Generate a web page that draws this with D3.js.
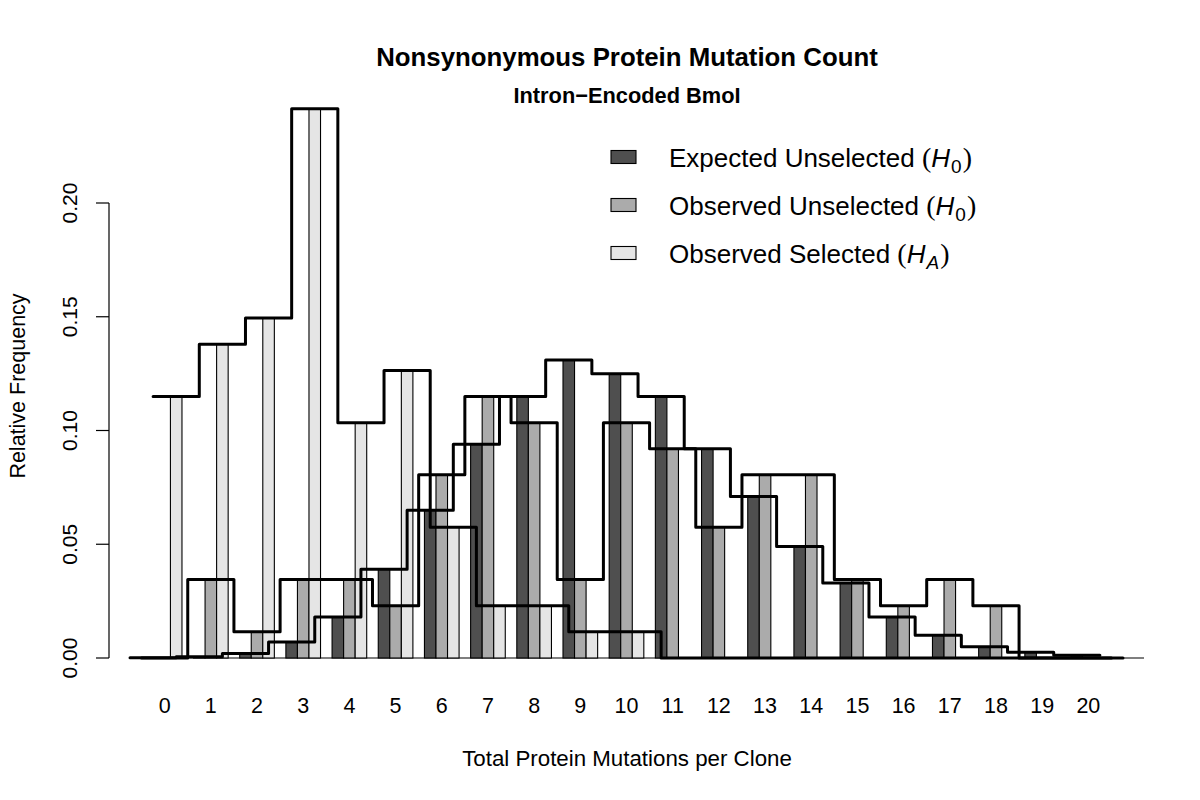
<!DOCTYPE html>
<html>
<head>
<meta charset="utf-8">
<script src="https://cdn.jsdelivr.net/npm/d3@7"></script>
<style>
  html, body { margin: 0; padding: 0; background: #ffffff; }
  svg { display: block; }
  text { font-family: "Liberation Sans", Arial, Helvetica, sans-serif; fill: #000; }
</style>
</head>
<body>
<svg id="chart" width="1200" height="800"></svg>
<script>
// ---- data ----
const categories = ["0","1","2","3","4","5","6","7","8","9","10","11","12","13","14","15","16","17","18","19","20"];
const expectedUnselected = [0.0001, 0.0005, 0.002, 0.007, 0.018, 0.039, 0.065, 0.094, 0.115, 0.131, 0.125, 0.115, 0.092, 0.071, 0.049, 0.033, 0.018, 0.010, 0.005, 0.0025, 0.0012];
const observedUnselected = [0, 0.0345, 0.0115, 0.0345, 0.0345, 0.023, 0.0805, 0.1149, 0.1034, 0.0345, 0.1034, 0.092, 0.0575, 0.0805, 0.0805, 0.0345, 0.023, 0.0345, 0.023, 0, 0];
const observedSelected = [0.1149, 0.1379, 0.1494, 0.2414, 0.1034, 0.1264, 0.0575, 0.023, 0.023, 0.0115, 0.0115, 0, 0, 0, 0, 0, 0, 0, 0, 0, 0];
const yTicks = [0, 0.05, 0.10, 0.15, 0.20];
const seriesNames = ["Expected Unselected", "Observed Unselected", "Observed Selected"];
const seriesSubs = ["0", "0", "A"];
const seriesColors = ["#4f4f4f", "#ababab", "#e5e5e5"];
const titleText = "Nonsynonymous Protein Mutation Count";
const subtitleText = "Intron\u2212Encoded BmoI";
const xLabel = "Total Protein Mutations per Clone";
const yLabel = "Relative Frequency";

const series = [expectedUnselected, observedUnselected, observedSelected];

const svg = d3.select("#chart");

// R-style barplot unit coordinates: group k, series s occupies [1+4k+s, 2+4k+s]
const x = d3.scaleLinear().domain([-2.32, 87.32]).range([109, 1144]);
const y = d3.scaleLinear().domain([0, 0.2]).range([658, 203]);

const barLeft = (k, s) => 1 + 4 * k + s;

// baseline
svg.append("line")
  .attr("x1", x(-0.5)).attr("x2", x(87.32))
  .attr("y1", y(0)).attr("y2", y(0))
  .attr("stroke", "#000").attr("stroke-width", 1.2);

// bars
series.forEach((vals, s) => {
  svg.append("g").selectAll("rect")
    .data(vals)
    .join("rect")
    .attr("x", (d, k) => x(barLeft(k, s)))
    .attr("width", (d, k) => x(barLeft(k, s) + 1) - x(barLeft(k, s)))
    .attr("y", d => y(d))
    .attr("height", d => y(0) - y(d))
    .attr("fill", seriesColors[s])
    .attr("stroke", "#000")
    .attr("stroke-width", 1.1);
});

// step outlines for each series
const line = d3.line().x(d => x(d[0])).y(d => y(d[1]));
series.forEach((vals, s) => {
  const pts = [];
  vals.forEach((v, k) => {
    const c = barLeft(k, s) + 0.5;
    pts.push([c - 2, v]);
    pts.push([c + 2, v]);
  });
  svg.append("path")
    .attr("d", line(pts))
    .attr("fill", "none")
    .attr("stroke", "#000")
    .attr("stroke-width", 3)
    .attr("stroke-linejoin", "round")
    .attr("stroke-linecap", "round");
});

// y axis
const yAxis = svg.append("g");
yAxis.append("line")
  .attr("x1", 109).attr("x2", 109)
  .attr("y1", y(yTicks[0])).attr("y2", y(yTicks[yTicks.length - 1]))
  .attr("stroke", "#000").attr("stroke-width", 1.2);
yAxis.selectAll("line.tick").data(yTicks).join("line")
  .attr("class", "tick")
  .attr("x1", 96).attr("x2", 109)
  .attr("y1", d => y(d)).attr("y2", d => y(d))
  .attr("stroke", "#000").attr("stroke-width", 1.2);
yAxis.selectAll("text").data(yTicks).join("text")
  .attr("transform", d => `translate(77,${y(d)}) rotate(-90)`)
  .attr("text-anchor", "middle")
  .attr("font-size", 21)
  .text(d => d3.format(".2f")(d));

// x tick labels (no axis line, as in R barplot)
svg.append("g").selectAll("text").data(categories).join("text")
  .attr("x", (d, k) => x(barLeft(k, 1) + 0.5))
  .attr("y", 713)
  .attr("text-anchor", "middle")
  .attr("font-size", 21.5)
  .text(d => d);

// axis titles
svg.append("text")
  .attr("x", 627).attr("y", 766)
  .attr("text-anchor", "middle")
  .attr("font-size", 22.3)
  .text(xLabel);
svg.append("text")
  .attr("transform", "translate(25,386) rotate(-90)")
  .attr("text-anchor", "middle")
  .attr("font-size", 21.5)
  .text(yLabel);

// titles
svg.append("text")
  .attr("x", 627).attr("y", 66)
  .attr("text-anchor", "middle")
  .attr("font-size", 25.8)
  .attr("font-weight", "bold")
  .text(titleText);
svg.append("text")
  .attr("x", 627).attr("y", 102.5)
  .attr("text-anchor", "middle")
  .attr("font-size", 21.8)
  .attr("font-weight", "bold")
  .text(subtitleText);

// legend
const legend = svg.append("g");
const legY = [157, 205, 253];
seriesNames.forEach((name, i) => {
  legend.append("rect")
    .attr("x", 611).attr("y", legY[i] - 6.5)
    .attr("width", 25).attr("height", 13)
    .attr("fill", seriesColors[i])
    .attr("stroke", "#000").attr("stroke-width", 1.1);
  const t = legend.append("text")
    .attr("x", 669).attr("y", legY[i] + 9.5)
    .attr("font-size", 26);
  t.append("tspan").text(name + " ");
  t.append("tspan").attr("font-family", "Liberation Serif, serif").attr("font-size", 28).text("(");
  t.append("tspan").attr("font-style", "italic").text("H");
  const sub = t.append("tspan")
    .attr("dy", 6)
    .attr("dx", 1)
    .attr("font-size", 19);
  if (seriesSubs[i] === "A") {
    sub.attr("font-style", "italic");
  }
  sub.text(seriesSubs[i]);
  t.append("tspan").attr("dy", -6).attr("dx", 1).attr("font-family", "Liberation Serif, serif").attr("font-size", 28).text(")");
});
</script>
</body>
</html>
